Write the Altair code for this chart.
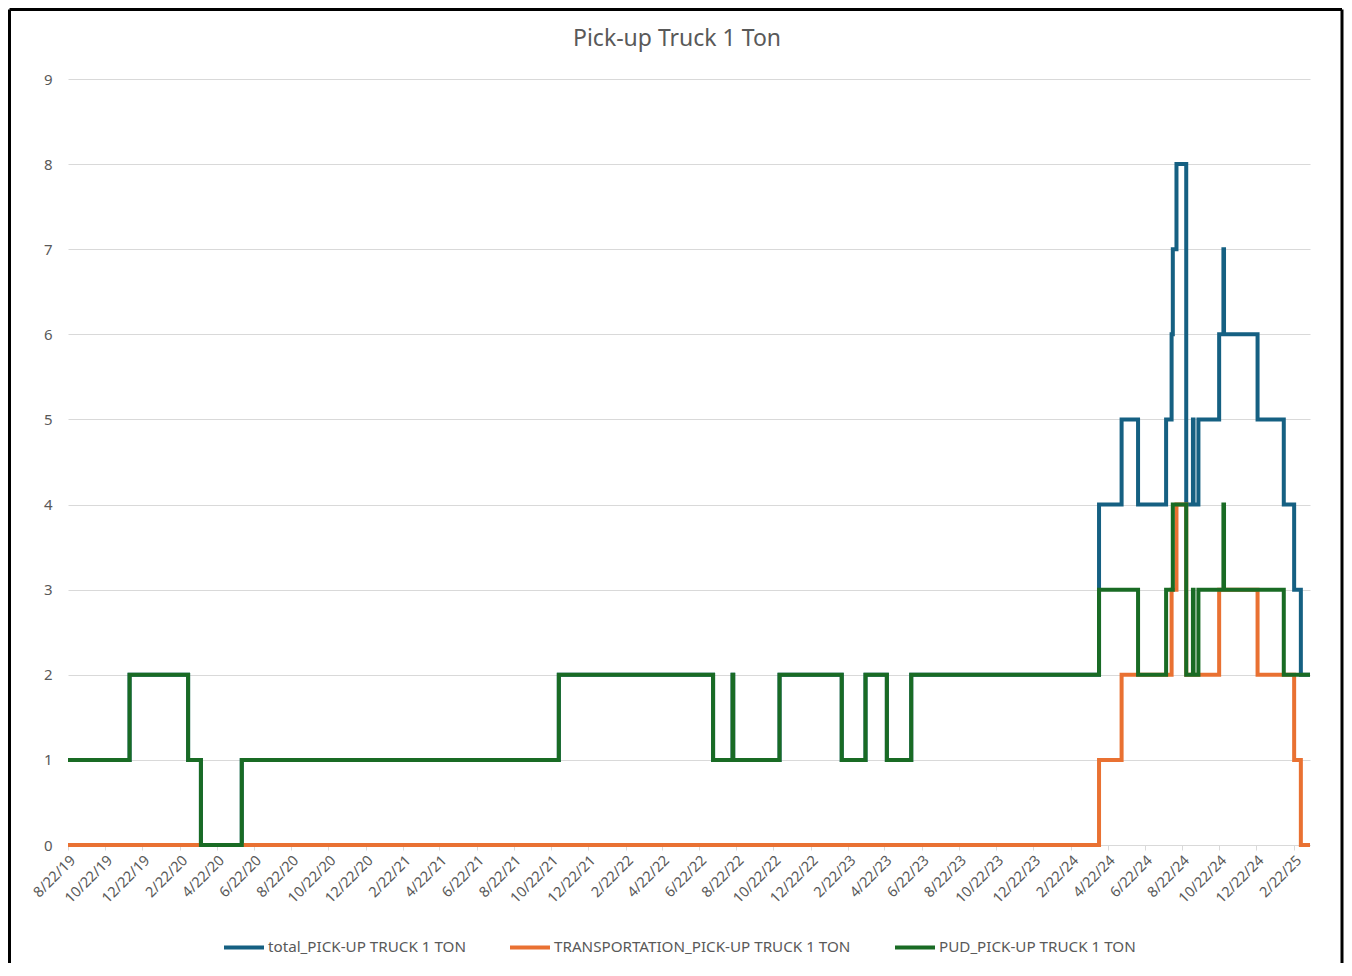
import altair as alt
import pandas as pd
from datetime import datetime

SERIES = ["total_PICK-UP TRUCK 1 TON", "TRANSPORTATION_PICK-UP TRUCK 1 TON", "PUD_PICK-UP TRUCK 1 TON"]
COLORS = ["#156082", "#E97132", "#196B24"]
TITLE = "Pick-up Truck 1 Ton"

total_dates = ["2019-08-22", "2019-12-01", "2020-03-06", "2020-03-27", "2020-06-02", "2021-11-04",
               "2022-07-15", "2022-08-16", "2022-08-17", "2022-11-01", "2023-02-11", "2023-03-22",
               "2023-04-26", "2023-06-05", "2024-04-08", "2024-05-15", "2024-06-11", "2024-07-27",
               "2024-08-05", "2024-08-07", "2024-08-13", "2024-08-29", "2024-09-09", "2024-09-10",
               "2024-09-18", "2024-10-22", "2024-10-29", "2024-10-30", "2024-12-24", "2025-02-05",
               "2025-02-22", "2025-03-05", "2025-03-20"]
total_values = [1, 2, 1, 0, 1, 2,
                1, 2, 1, 2, 1, 2,
                1, 2, 4, 5, 4, 5,
                6, 7, 8, 4, 5, 4,
                5, 6, 7, 6, 5, 4,
                3, 2, 2]

transport_dates = ["2019-08-22", "2024-04-08", "2024-05-15", "2024-08-05", "2024-08-13", "2024-08-29",
                   "2024-10-22", "2024-12-24", "2025-02-22", "2025-03-05", "2025-03-20"]
transport_values = [0, 1, 2, 3, 4, 2,
                    3, 2, 1, 0, 0]

pud_dates = ["2019-08-22", "2019-12-01", "2020-03-06", "2020-03-27", "2020-06-02", "2021-11-04",
             "2022-07-15", "2022-08-16", "2022-08-17", "2022-11-01", "2023-02-11", "2023-03-22",
             "2023-04-26", "2023-06-05", "2024-04-08", "2024-06-11", "2024-07-27", "2024-08-07",
             "2024-08-29", "2024-09-09", "2024-09-10", "2024-09-18", "2024-10-29", "2024-10-30",
             "2025-02-05", "2025-03-20"]
pud_values = [1, 2, 1, 0, 1, 2,
              1, 2, 1, 2, 1, 2,
              1, 2, 3, 2, 3, 4,
              2, 3, 2, 3, 4, 3,
              2, 2]

x_ticks = ["2019-08-22", "2019-10-22", "2019-12-22", "2020-02-22", "2020-04-22", "2020-06-22",
           "2020-08-22", "2020-10-22", "2020-12-22", "2021-02-22", "2021-04-22", "2021-06-22",
           "2021-08-22", "2021-10-22", "2021-12-22", "2022-02-22", "2022-04-22", "2022-06-22",
           "2022-08-22", "2022-10-22", "2022-12-22", "2023-02-22", "2023-04-22", "2023-06-22",
           "2023-08-22", "2023-10-22", "2023-12-22", "2024-02-22", "2024-04-22", "2024-06-22",
           "2024-08-22", "2024-10-22", "2024-12-22", "2025-02-22"]
x_domain = ["2019-08-22", "2025-03-20"]
y_ticks = [0, 1, 2, 3, 4, 5, 6, 7, 8, 9]

FONT = "Noto Sans"
TEXT = "#595959"


def dt(s):
    d = datetime.strptime(s, "%Y-%m-%d")
    return alt.DateTime(year=d.year, month=d.month, date=d.day, utc=True)


rows = []
for name, ds, vs in [(SERIES[0], total_dates, total_values),
                     (SERIES[1], transport_dates, transport_values),
                     (SERIES[2], pud_dates, pud_values)]:
    for d, v in zip(ds, vs):
        rows.append({"date": d, "value": v, "series": name})
df = pd.DataFrame(rows)

W, H = 1242, 766
PAD_L, PAD_T, PAD_R, PAD_B = 60, 71, 34, 118

lines = alt.Chart(df).mark_line(interpolate="step-after", strokeWidth=4).encode(
    x=alt.X("date:T",
            scale=alt.Scale(type="utc", domain=[dt(s) for s in x_domain], nice=False),
            axis=alt.Axis(values=[dt(s) for s in x_ticks], title=None,
                          labelExpr="utcFormat(datum.value, '%-m/%-d/%y')",
                          labelAngle=-45, labelFontSize=14.5, labelColor=TEXT, labelFont=FONT,
                          grid=False, domain=True, domainColor="#d9d9d9", domainWidth=1,
                          ticks=True, tickColor="#d9d9d9", tickSize=5, labelPadding=3,
                          labelOverlap=False, labelFlush=False)),
    y=alt.Y("value:Q",
            scale=alt.Scale(domain=[0, 9], nice=False),
            axis=alt.Axis(values=y_ticks, title=None, grid=True, gridColor="#d9d9d9",
                          domain=False, ticks=False, tickSize=0, labelPadding=16,
                          labelFontSize=15, labelColor=TEXT, labelFont=FONT)),
    color=alt.Color("series:N",
                    scale=alt.Scale(domain=SERIES, range=COLORS),
                    sort=SERIES,
                    legend=alt.Legend(title=None, orient="none", direction="horizontal",
                                      legendX=154, legendY=846, padding=0,
                                      symbolType="stroke", symbolSize=1600, symbolStrokeWidth=4,
                                      labelFontSize=15.2, labelColor=TEXT, labelFont=FONT,
                                      labelLimit=0, labelOffset=2, columnPadding=36)),
    order=alt.Order("date:T"),
)

title_df = pd.DataFrame({"t": [TITLE]})
title = alt.Chart(title_df).mark_text(fontSize=23, color=TEXT, font=FONT, align="center",
                                      baseline="middle").encode(
    text="t:N", x=alt.value(609), y=alt.value(-40))

border_df = pd.DataFrame({"k": [0]})
left = alt.Chart(border_df).mark_rule(color="black", strokeWidth=3).encode(
    x=alt.value(-58.5), y=alt.value(-69.5), y2=alt.value(H + PAD_B))
right = alt.Chart(border_df).mark_rule(color="black", strokeWidth=3).encode(
    x=alt.value(W + PAD_R - 2), y=alt.value(-69.5), y2=alt.value(H + PAD_B))
top = alt.Chart(border_df).mark_rule(color="black", strokeWidth=3).encode(
    x=alt.value(-58.5), x2=alt.value(W + PAD_R - 2), y=alt.value(-69.5))

chart = alt.layer(lines, title, left, right, top).properties(
    width=W, height=H,
    padding={"left": PAD_L, "top": PAD_T, "right": PAD_R, "bottom": PAD_B},
    autosize=alt.AutoSizeParams(type="none"),
    background="white",
).configure_view(stroke=None)

chart.save("out.html", embed_options={"renderer": "svg", "actions": False})
